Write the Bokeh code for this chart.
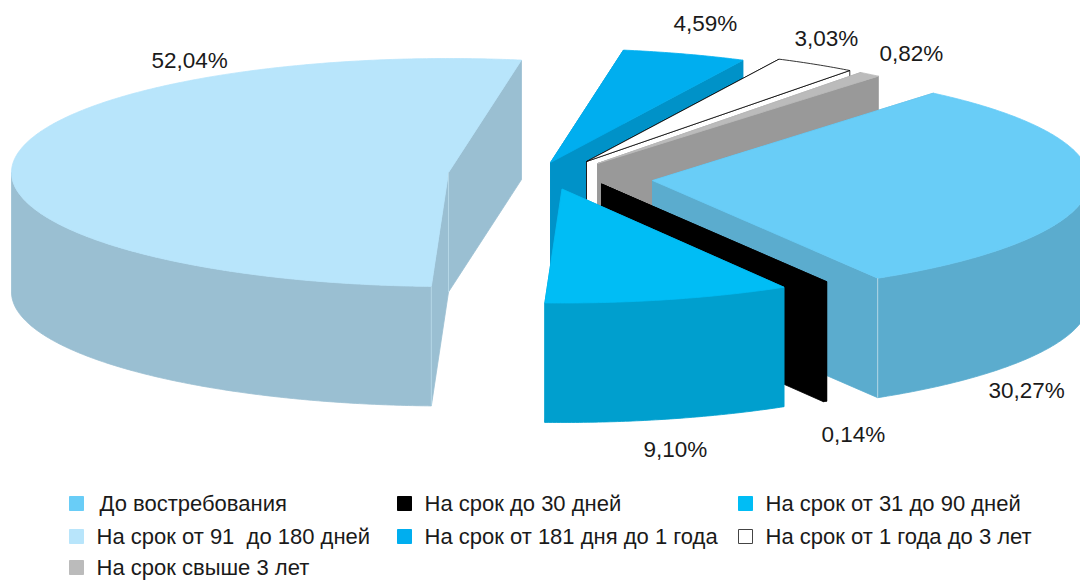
import math
from bokeh.plotting import figure
from bokeh.models import ColumnDataSource, Range1d
from bokeh.core.properties import value
from bokeh.embed import file_html
from bokeh.resources import INLINE

# Data, in pie order (clockwise from the start angle)
NAMES = ["До востребования", "На срок до 30 дней", "На срок от 31 до 90 дней",
         "На срок от 91\u00a0 до 180 дней", "На срок от 181 дня до 1 года",
         "На срок от 1 года до 3 лет", "На срок свыше 3 лет"]
SHARES = [30.27, 0.14, 9.10, 52.04, 4.59, 3.03, 0.82]
SHARE_LABELS = ["30,27%", "0,14%", "9,10%", "52,04%", "4,59%", "3,03%", "0,82%"]

# Styles
TOP = ["#69CDF7", "#000000", "#00BDF5", "#B8E5FB", "#00AEEF", "#FFFFFF", "#BBBBBB"]
WALL = ["#5BACCE", "#000000", "#009FCE", "#9ABFD2", "#0092C8", "#FFFFFF", "#999999"]
EDGE_TOP = ["#69CDF7", "#000000", "#00BDF5", "#B8E5FB", "#00AEEF", "#000000", "#BBBBBB"]
EDGE_WALL = ["#5BACCE", "#000000", "#009FCE", "#9ABFD2", "#0092C8", "#000000", "#999999"]

# Layout: apex of each exploded slice, ellipse radii, thickness, paint order
APEX_X = [652, 601, 561.5, 448, 550, 586, 597]
APEX_Y = [180, 183.5, 188.5, 172, 162, 161, 163]
RX, RY, DEPTH = 437, 114, 119.5
START_DEG = 50.0
PAINT_ORDER = [3, 4, 5, 6, 0, 1, 2]
LABEL_X = [988, 821, 643, 151, 673, 794, 879]
LABEL_Y = [390, 434, 449, 60, 23, 38, 53]
LEG_MARK_X = [76, 404, 745, 76, 404, 745, 76]
LEG_TEXT_X = [99, 424, 765, 96, 424, 765, 96]
LEG_Y = [503, 503, 503, 536, 536, 536, 567]
FONT = "Liberation Sans"
LABEL_PX = "22.5px"
LEGEND_PX = "22px"


def rim(cx, cy, a):
    return cx + RX * math.cos(math.radians(a)), cy - RY * math.sin(math.radians(a))


def arc(cx, cy, a0, a1):
    n = int(abs(a1 - a0)) * 2 + 2
    pts = [rim(cx, cy, a0 + (a1 - a0) * i / (n - 1)) for i in range(n)]
    return [q[0] for q in pts], [q[1] for q in pts]


total = sum(SHARES)
bounds = [START_DEG]
for s in SHARES:
    bounds.append(bounds[-1] - 360.0 * s / total)

xs, ys, fills, lines = [], [], [], []


def add(x, y, fill, line):
    xs.append(x)
    ys.append(y)
    fills.append(fill)
    lines.append(line)


for i in PAINT_ORDER:
    cx, cy = APEX_X[i], APEX_Y[i]
    a0, a1 = bounds[i], bounds[i + 1]
    # cut faces, back one first
    for a in sorted((a0, a1), key=lambda d: -math.sin(math.radians(d))):
        ex, ey = rim(cx, cy, a)
        add([cx, ex, ex, cx], [cy, ey, ey + DEPTH, cy + DEPTH], WALL[i], EDGE_WALL[i])
    # outer wall: only the front half of the rim shows
    lo, hi = max(a1, -180.0), min(a0, 0.0)
    if hi > lo:
        wx, wy = arc(cx, cy, hi, lo)
        add(wx + wx[::-1], wy + [v + DEPTH for v in wy[::-1]], WALL[i], EDGE_WALL[i])
    # top surface
    tx, ty = arc(cx, cy, a0, a1)
    add([cx] + tx, [cy] + ty, TOP[i], EDGE_TOP[i])

# thin highlights where a cut face meets the outer wall
sx, sy = [], []
for x, y in (rim(APEX_X[0], APEX_Y[0], bounds[1]),
             rim(APEX_X[3], APEX_Y[3], bounds[3]),
             (APEX_X[3], APEX_Y[3])):
    sx.append(x)
    sy.append(y)

p = figure(width=1080, height=580, x_range=Range1d(0, 1080), y_range=Range1d(580, 0),
           toolbar_location=None, output_backend="svg", min_border=0,
           x_axis_location=None, y_axis_location=None, outline_line_color=None)
p.grid.visible = False

p.patches(xs="xs", ys="ys", fill_color="fill", line_color="line", line_width=0.8,
          source=ColumnDataSource(dict(xs=xs, ys=ys, fill=fills, line=lines)))

p.segment(sx, sy, sx, [v + DEPTH for v in sy], line_color="#B5D7E6", line_width=1)

p.text(x=LABEL_X, y=LABEL_Y, text=SHARE_LABELS, text_font=value(FONT),
       text_font_size=value(LABEL_PX), text_color="#1a1a1a",
       text_align="left", text_baseline="middle")

marker_line = ["#444444" if c == "#FFFFFF" else c for c in TOP]
p.scatter(x=LEG_MARK_X, y=LEG_Y, marker="square", size=14, fill_color=TOP,
          line_color=marker_line, line_width=1)
p.text(x=LEG_TEXT_X, y=LEG_Y, text=NAMES, text_font=value(FONT),
       text_font_size=value(LEGEND_PX), text_color="#1a1a1a",
       text_align="left", text_baseline="middle")

open("out.html", "w").write(file_html(p, INLINE))
